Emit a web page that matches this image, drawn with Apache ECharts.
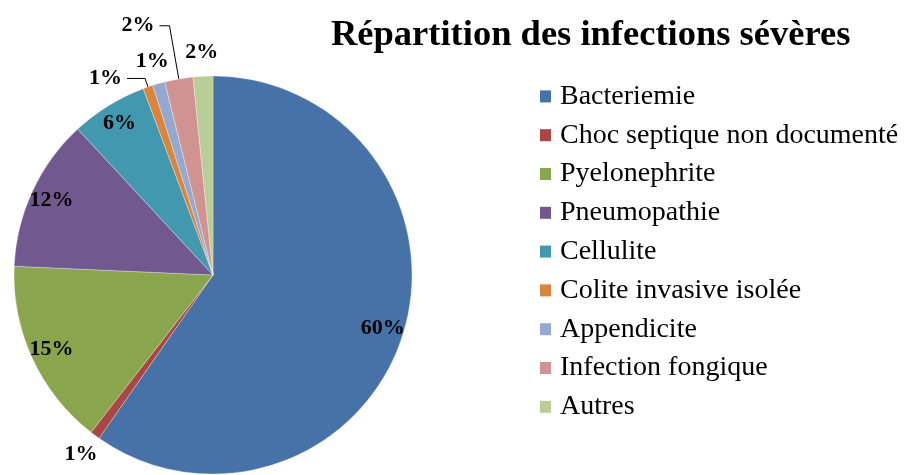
<!DOCTYPE html>
<html>
<head>
<meta charset="utf-8">
<script src="https://cdn.jsdelivr.net/npm/echarts@6/dist/echarts.min.js"></script>
<style>html,body{margin:0;padding:0;background:#fff}#chart{width:912px;height:475px}</style>
</head>
<body>
<div id="chart"></div>
<script>
// ---- data ----
const categories = ['Bacteriemie', 'Choc septique non documenté', 'Pyelonephrite', 'Pneumopathie', 'Cellulite', 'Colite invasive isolée', 'Appendicite', 'Infection fongique', 'Autres'];
const values = [59.7, 0.8, 15.2, 12.4, 6.2, 0.8, 1.0, 2.3, 1.6];
const titleText = 'Répartition des infections sévères';
// ---- styling ----
const colors = ['#4672A8', '#AA4643', '#89A54E', '#71588F', '#4198AF', '#DB843D', '#93A9CF', '#D19392', '#B9CD96'];
const withLeader = { 'Colite invasive isolée': { length: 9, length2: 18 }, 'Infection fongique': { length: 54, length2: 10 } };
const insideMin = 5;
const serif = "'Liberation Serif', 'Times New Roman', serif";
const center = [213, 275];
const R = 199;
const labelFont = { fontFamily: serif, fontWeight: 'bold', fontSize: 22, color: '#000' };

const chart = echarts.init(document.getElementById('chart'));

const mainData = categories.map((n, i) => {
  const lead = withLeader[n];
  return {
    name: n, value: values[i],
    itemStyle: { color: colors[i] },
    label: { show: !!lead },
    labelLine: lead ? { show: true, length: lead.length, length2: lead.length2 } : { show: false }
  };
});
const insideData = categories.map((n, i) => ({
  name: n, value: values[i],
  label: { show: values[i] >= insideMin }
}));
const outerData = categories.map((n, i) => ({
  name: n, value: values[i],
  label: { show: values[i] < insideMin && !withLeader[n] }
}));
const ghost = {
  type: 'pie', center: center, startAngle: 90, clockwise: true,
  silent: true, legendHoverLink: false, percentPrecision: 0,
  itemStyle: { color: 'rgba(0,0,0,0)', borderWidth: 0 },
  emphasis: { disabled: true }, labelLine: { show: false },
  avoidLabelOverlap: false, tooltip: { show: false }
};

chart.setOption({
  animation: false,
  backgroundColor: '#fff',
  title: {
    text: titleText, left: 326, top: 12,
    textStyle: { fontFamily: serif, fontWeight: 'bold', fontSize: 36.5, color: '#000' }
  },
  legend: {
    orient: 'vertical', left: 535, top: 72,
    data: categories,
    icon: 'rect', itemWidth: 11, itemHeight: 12, itemGap: 0,
    itemStyle: { borderWidth: 0 },
    textStyle: { fontFamily: serif, fontSize: 28, color: '#000', lineHeight: 38.8, padding: [0, 0, 0, 4] },
    selectedMode: true
  },
  series: [
    {
      type: 'pie', name: 'main', center: center, radius: R,
      startAngle: 90, clockwise: true, avoidLabelOverlap: false, percentPrecision: 0,
      itemStyle: { borderColor: 'rgba(255,255,255,0.6)', borderWidth: 0.5 },
      label: Object.assign({ position: 'outside', formatter: '{d}%' }, labelFont),
      labelLine: { lineStyle: { color: '#000', width: 1 } },
      emphasis: { scale: false },
      data: mainData
    },
    Object.assign({}, ghost, {
      name: 'inside', radius: [150, 200],
      label: Object.assign({ position: 'inside', formatter: '{d}%' }, labelFont),
      data: insideData
    }),
    Object.assign({}, ghost, {
      name: 'outer', radius: [R, 240],
      label: Object.assign({ position: 'inside', formatter: '{d}%' }, labelFont),
      data: outerData
    })
  ]
});
</script>
</body>
</html>
